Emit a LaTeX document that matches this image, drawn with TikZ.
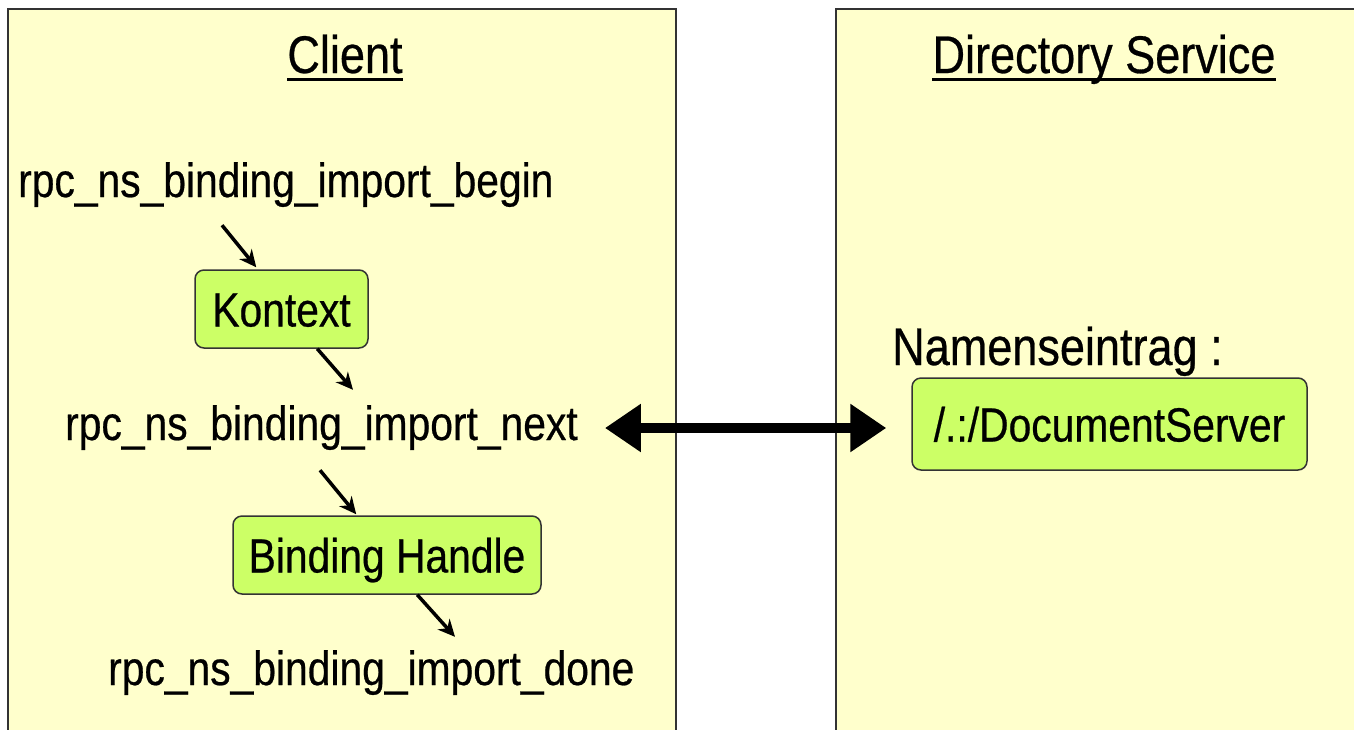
\documentclass[tikz,border=0pt]{standalone}
\usepackage{fontspec}
\setmainfont{Liberation Sans}[FakeStretch=0.85, FakeBold=0.5]
\usetikzlibrary{arrows.meta}
\definecolor{panelfill}{RGB}{255,255,204}
\definecolor{boxfill}{RGB}{204,255,102}
\definecolor{edge}{RGB}{51,51,51}
\tikzset{
  panel/.style={draw=edge, line width=2pt, fill=panelfill},
  title/.style={inner sep=0pt, anchor=base, font=\fontsize{53}{60}\selectfont},
  label/.style={inner sep=0pt, anchor=base west, font=\fontsize{48}{56}\selectfont,
    text height=35pt, text depth=0pt},
  tag/.style={draw=edge, line width=1.5pt, fill=boxfill, rounded corners=9pt,
    inner sep=0pt, text height=35pt, text depth=0pt, font=\fontsize{48}{56}\selectfont},
  flow/.style={line width=3.5pt, -{Stealth[length=17pt,width=16pt]}},
  link/.style={line width=10pt, {Triangle[length=36pt,width=46pt]}-{Triangle[length=36pt,width=46pt]}},
  uline/.style={line width=3pt}
}
\begin{document}
\begin{tikzpicture}[x=1pt, y=-1pt]
  \useasboundingbox (0,0) rectangle (1354,729);
  \fill[white] (0,0) rectangle (1354,729);
  \clip (0,0) rectangle (1354,729);

  % two side panels, running past the lower and right edges
  \draw[panel] (8,9) rectangle (676,760);
  \draw[panel] (836,9) rectangle (1380,760);

  % panel headings
  \node[title] (client) at (345,73) {Client};
  \draw[uline] ([yshift=-6pt]client.base west) -- ([yshift=-6pt]client.base east);
  \node[title] (dir) at (1104,73) {Directory Service};
  \draw[uline] ([yshift=-6pt]dir.base west) -- ([yshift=-6pt]dir.base east);

  % client call sequence
  \node[label] (begin) at (18,197) {rpc\_ns\_binding\_import\_begin};
  \node[tag, minimum width=173pt, minimum height=78pt] (kontext) at (281.5,309) {Kontext};
  \node[label] (next) at (65,440) {rpc\_ns\_binding\_import\_next};
  \node[tag, minimum width=308pt, minimum height=78pt] (bh) at (387,555) {Binding Handle};
  \node[label] (done) at (108,685) {rpc\_ns\_binding\_import\_done};

  % directory entry
  \node[label, font=\fontsize{53}{60}\selectfont] (entry) at (892,365) {Namenseintrag :};
  \node[tag, minimum width=395pt, minimum height=92pt] (ds) at (1109.5,424) {/.:/DocumentServer};

  % step arrows
  \draw[flow] ([xshift=204pt,yshift=-28pt]begin.south west) -- ([xshift=62pt,yshift=2pt]kontext.north west);
  \draw[flow] ([xshift=123pt]kontext.south west) -- ([xshift=288pt,yshift=15pt]next.north west);
  \draw[flow] ([xshift=255pt,yshift=-30pt]next.south west) -- ([xshift=124pt,yshift=1pt]bh.north west);
  \draw[flow] ([xshift=185pt]bh.south west) -- ([xshift=347pt,yshift=13pt]done.north west);

  % lookup between client and directory
  \draw[link] ([xshift=27pt,yshift=-5.5pt]next.east) -- ([xshift=-25pt,yshift=-4pt]ds.west);
\end{tikzpicture}
\end{document}
